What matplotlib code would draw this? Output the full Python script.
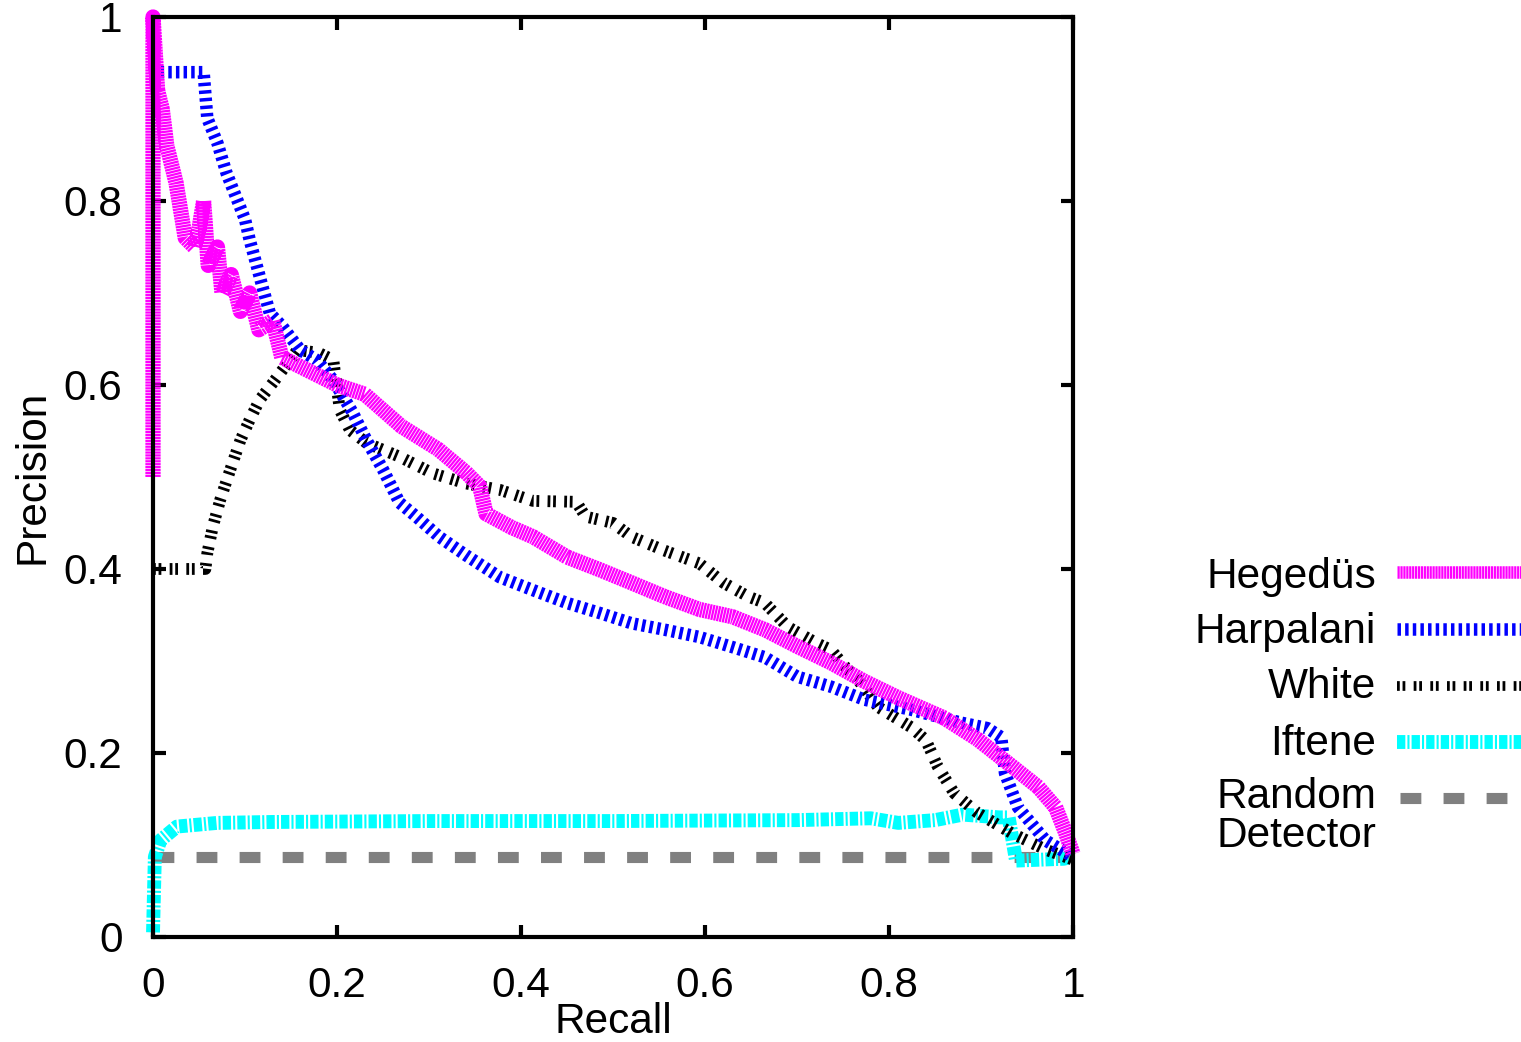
import matplotlib
matplotlib.use('Agg')
import matplotlib.pyplot as plt
from matplotlib.lines import Line2D

plt.rcParams['font.family'] = ['Liberation Sans', 'DejaVu Sans']
plt.rcParams['font.size'] = 30.5
plt.rcParams['lines.scale_dashes'] = False

# Hegedüs
heg_r = [0.0, 0.0, 0.005, 0.01, 0.015, 0.02, 0.025, 0.03, 0.035, 0.045, 0.05, 0.055, 0.06,
         0.07, 0.075, 0.085, 0.095, 0.105, 0.115, 0.13, 0.14, 0.16, 0.18, 0.2, 0.23, 0.27,
         0.31, 0.34, 0.355, 0.362, 0.39, 0.413, 0.45, 0.486, 0.52, 0.556, 0.594, 0.63,
         0.665, 0.70, 0.737, 0.773, 0.81, 0.86, 0.896, 0.933, 0.962, 0.981, 0.992, 1.0]
heg_p = [0.50, 1.00, 0.92, 0.90, 0.86, 0.84, 0.82, 0.79, 0.76, 0.75, 0.77, 0.80, 0.73,
         0.75, 0.70, 0.72, 0.68, 0.70, 0.66, 0.67, 0.63, 0.62, 0.61, 0.60, 0.59, 0.555,
         0.53, 0.505, 0.49, 0.46, 0.445, 0.435, 0.413, 0.399, 0.385, 0.37, 0.356, 0.348,
         0.334, 0.316, 0.298, 0.278, 0.26, 0.238, 0.215, 0.186, 0.163, 0.141, 0.113, 0.09]

# Harpalani
har_r = [0.0, 0.055, 0.059, 0.07, 0.08, 0.10, 0.105, 0.12, 0.127, 0.141, 0.16, 0.178,
         0.196, 0.217, 0.232, 0.25, 0.268, 0.286, 0.311, 0.34, 0.377, 0.413, 0.45, 0.486,
         0.52, 0.556, 0.594, 0.63, 0.665, 0.70, 0.737, 0.773, 0.824, 0.878, 0.907, 0.922,
         0.926, 0.94, 0.97, 1.0]
har_p = [0.94, 0.94, 0.89, 0.863, 0.83, 0.78, 0.758, 0.703, 0.678, 0.663, 0.638, 0.627,
         0.605, 0.57, 0.54, 0.508, 0.472, 0.457, 0.435, 0.415, 0.391, 0.377, 0.363, 0.352,
         0.341, 0.334, 0.326, 0.315, 0.304, 0.283, 0.272, 0.258, 0.247, 0.233, 0.227, 0.217,
         0.178, 0.141, 0.105, 0.087]

# White
whi_r = [0.0, 0.057, 0.059, 0.065, 0.073, 0.084, 0.095, 0.105, 0.116, 0.13, 0.157, 0.18,
         0.196, 0.203, 0.214, 0.232, 0.268, 0.304, 0.34, 0.377, 0.413, 0.46, 0.47, 0.50,
         0.52, 0.556, 0.594, 0.62, 0.647, 0.665, 0.69, 0.72, 0.737, 0.752, 0.766, 0.788,
         0.824, 0.84, 0.853, 0.871, 0.896, 0.933, 0.97, 1.0]
whi_p = [0.40, 0.40, 0.417, 0.446, 0.475, 0.508, 0.54, 0.562, 0.584, 0.602, 0.638, 0.635,
         0.627, 0.573, 0.551, 0.537, 0.522, 0.504, 0.493, 0.486, 0.474, 0.473, 0.457, 0.45,
         0.435, 0.42, 0.406, 0.385, 0.37, 0.363, 0.337, 0.32, 0.312, 0.294, 0.28, 0.25,
         0.228, 0.214, 0.185, 0.156, 0.135, 0.113, 0.095, 0.084]

# Iftene
ift_r = [0.0, 0.002, 0.008, 0.026, 0.07, 0.13, 0.3, 0.5, 0.7, 0.78, 0.81, 0.85, 0.88,
         0.92, 0.93, 0.938, 0.99, 1.0]
ift_p = [0.005, 0.087, 0.105, 0.12, 0.124, 0.125, 0.126, 0.126, 0.127, 0.129, 0.124,
         0.127, 0.133, 0.13, 0.13, 0.083, 0.085, 0.088]

# Random Detector
rnd_r = [0.0, 1.0]
rnd_p = [0.087, 0.087]

xticks = [0, 0.2, 0.4, 0.6, 0.8, 1]
tick_labels = ['0', '0.2', '0.4', '0.6', '0.8', '1']

labels = ['Hegedüs', 'Harpalani', 'White', 'Iftene', 'Random\nDetector']
styles = [
    dict(color='#ff00ff', lw=11, dashes=(1.6, 0.5)),
    dict(color='#0000ff', lw=9, dashes=(2.5, 3.0)),
    dict(color='black', lw=8.5, dashes=(2, 2, 2, 6)),
    dict(color='#00ffff', lw=10, dashes=(6, 1.5, 1.5, 1.5)),
    dict(color='#808080', lw=8, dashes=(15, 16)),
]
legend_lw = [9, 9, 7, 10, 8]

fig = plt.figure(figsize=(15.21, 10.42), dpi=100)
ax = fig.add_axes([0.1006, 0.1008, 0.6049, 0.8829])

series = [(heg_r, heg_p), (har_r, har_p), (whi_r, whi_p), (ift_r, ift_p), (rnd_r, rnd_p)]
zorders = [6, 5, 4, 3, 2]
for (r, p), st, z in zip(series, styles, zorders):
    ax.plot(r, p, solid_capstyle='butt', dash_capstyle='butt', zorder=z,
            clip_on=False, **st)

ax.set_xlim(0, 1)
ax.set_ylim(0, 1)
ax.set_xticks(xticks)
ax.set_xticklabels(tick_labels)
ax.set_yticks(xticks)
ax.set_yticklabels(tick_labels)
ax.tick_params(direction='in', length=9, width=3, top=True, right=True)
ax.tick_params(axis='x', pad=21)
ax.tick_params(axis='y', pad=22)
for s in ax.spines.values():
    s.set_linewidth(3)
    s.set_zorder(10)
ax.set_xlabel('Recall', labelpad=-3)
ax.set_ylabel('Precision', labelpad=8)

# legend, drawn by hand to the right of the axes
W, H = 1521.0, 1042.0
text_base = [588, 643, 698, 755, 847]   # baseline of the last text line
line_y = [572, 629, 686, 742, 798]
for lab, st, lw, tb, ly in zip(labels, styles, legend_lw, text_base, line_y):
    fig.text(1376 / W, 1 - tb / H, lab, ha='right', va='baseline', linespacing=0.98)
    x0 = 1400 if lab.startswith('Random') else 1397
    kw = dict(st, lw=lw)
    fig.add_artist(Line2D([x0 / W, 1521 / W], [1 - ly / H, 1 - ly / H],
                          transform=fig.transFigure, dash_capstyle='butt', **kw))

fig.savefig('out.png', dpi=100)
